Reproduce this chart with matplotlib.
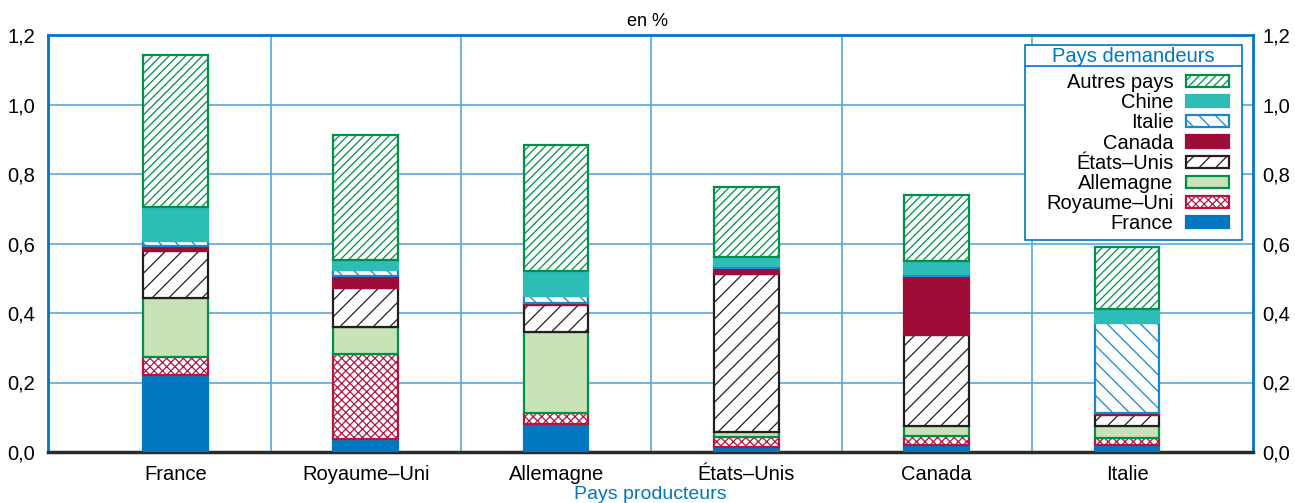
import matplotlib
matplotlib.use("Agg")
import matplotlib.pyplot as plt
import numpy as np
from matplotlib.ticker import FuncFormatter
from matplotlib.lines import Line2D
from matplotlib.patches import Rectangle

plt.rcParams['font.family'] = ['Liberation Sans', 'DejaVu Sans']
plt.rcParams['hatch.linewidth'] = 0.9

# Pays producteurs (abscisses)
producteurs = ["France", "Royaume\u2013Uni", "Allemagne", "\u00c9tats\u2013Unis", "Canada", "Italie"]

# Pays demandeurs (empilement, du bas vers le haut), en %
france = [0.222, 0.037, 0.081, 0.015, 0.019, 0.020]
royaume_uni = [0.050, 0.244, 0.032, 0.029, 0.028, 0.019]
allemagne = [0.172, 0.080, 0.233, 0.014, 0.028, 0.036]
etats_unis = [0.134, 0.112, 0.076, 0.454, 0.262, 0.031]
canada = [0.015, 0.033, 0.008, 0.018, 0.169, 0.005]
italie = [0.015, 0.018, 0.020, 0.005, 0.005, 0.261]
chine = [0.098, 0.029, 0.071, 0.025, 0.039, 0.039]
autres = [0.436, 0.359, 0.363, 0.202, 0.190, 0.180]

series = [
    ("France", france, dict(facecolor="#0077c0", edgecolor="#0077c0", hatch=None)),
    ("Royaume\u2013Uni", royaume_uni, dict(facecolor="white", edgecolor="#b5163f", hatch="xxxx")),
    ("Allemagne", allemagne, dict(facecolor="#c8e3b6", edgecolor="#00904a", hatch=None)),
    ("\u00c9tats\u2013Unis", etats_unis, dict(facecolor="white", edgecolor="#231f20", hatch="//")),
    ("Canada", canada, dict(facecolor="#a00c38", edgecolor="#a00c38", hatch=None)),
    ("Italie", italie, dict(facecolor="white", edgecolor="#1a86cc", hatch="\\\\")),
    ("Chine", chine, dict(facecolor="#2ebdb6", edgecolor="#2ebdb6", hatch=None)),
    ("Autres pays", autres, dict(facecolor="white", edgecolor="#00904a", hatch="////")),
]

bleu = "#0077c0"
grille = "#5aa8dc"
W, H = 1295, 503

fig = plt.figure(figsize=(12.95, 5.03), dpi=100)
ax = fig.add_axes([48 / W, 51 / H, 1205 / W, 417 / H])

x = np.arange(len(producteurs))
bas = np.zeros(len(producteurs))
handles = []
for nom, vals, style in series:
    b = ax.bar(x, vals, 0.34, bottom=bas, linewidth=1.6, label=nom, zorder=3, **style)
    handles.append(b)
    bas += np.array(vals)

fmt = FuncFormatter(lambda v, p: f"{v:.1f}".replace(".", ","))
ax.set_xlim(-0.67, 5.662)
ax.set_ylim(0, 1.2)
ax.set_yticks(np.arange(0, 1.21, 0.2))
ax.yaxis.set_major_formatter(fmt)
ax.set_xticks(x)
ax.set_xticklabels(producteurs, fontsize=14.5)
ax.set_xticks(x[:-1] + 0.5, minor=True)
ax.tick_params(axis="y", length=0, labelsize=14.5, pad=9)
ax.tick_params(axis="x", which="both", length=0, pad=9)

# axe de droite (mêmes graduations)
ax2 = ax.twinx()
ax2.set_ylim(0, 1.2)
ax2.set_yticks(np.arange(0, 1.21, 0.2))
ax2.yaxis.set_major_formatter(fmt)
ax2.tick_params(axis="y", length=0, labelsize=14.5, pad=6.5)
for s in ax2.spines.values():
    s.set_visible(False)

ax.grid(axis="y", color=grille, linewidth=1.2, zorder=0)
ax.grid(axis="x", which="minor", color=grille, linewidth=1.2, zorder=0)
ax.grid(axis="x", which="major", visible=False)

for cote in ["left", "right", "top"]:
    ax.spines[cote].set_color(bleu)
    ax.spines[cote].set_linewidth(2)
ax.spines["bottom"].set_color("#2b2b2b")
ax.spines["bottom"].set_linewidth(2.5)

ax.set_xlabel("Pays producteurs", color=bleu, fontsize=14, labelpad=2)
fig.text(0.5, 0.958, "en %", ha="center", va="center", fontsize=13)

# Légende : cadre, titre et trait dessinés à part
ax2.add_patch(Rectangle((1025 / W, 1 - 240 / H), 217 / W, 195 / H, transform=fig.transFigure,
                        facecolor="white", edgecolor=bleu, linewidth=1.2, clip_on=False, zorder=4))
ax2.add_line(Line2D([1025 / W, 1242 / W], [1 - 66 / H, 1 - 66 / H], transform=fig.transFigure,
                    color=bleu, linewidth=1.2, clip_on=False, zorder=4.5))
ax2.text(1133.5 / W, 1 - 56 / H, "Pays demandeurs", transform=fig.transFigure, ha="center",
         va="center", color=bleu, fontsize=14.5, zorder=6)

leg = ax2.legend(handles[::-1], [s[0] for s in series][::-1], loc="upper right",
                 bbox_to_anchor=(1229 / W, 1 - 73 / H), bbox_transform=fig.transFigure,
                 markerfirst=False, frameon=False, fontsize=14.5,
                 handlelength=2.15, handleheight=0.55, labelspacing=0.06,
                 borderpad=0, handletextpad=0.6, borderaxespad=0)
leg.set_zorder(7)

fig.savefig("out.png", dpi=100)
